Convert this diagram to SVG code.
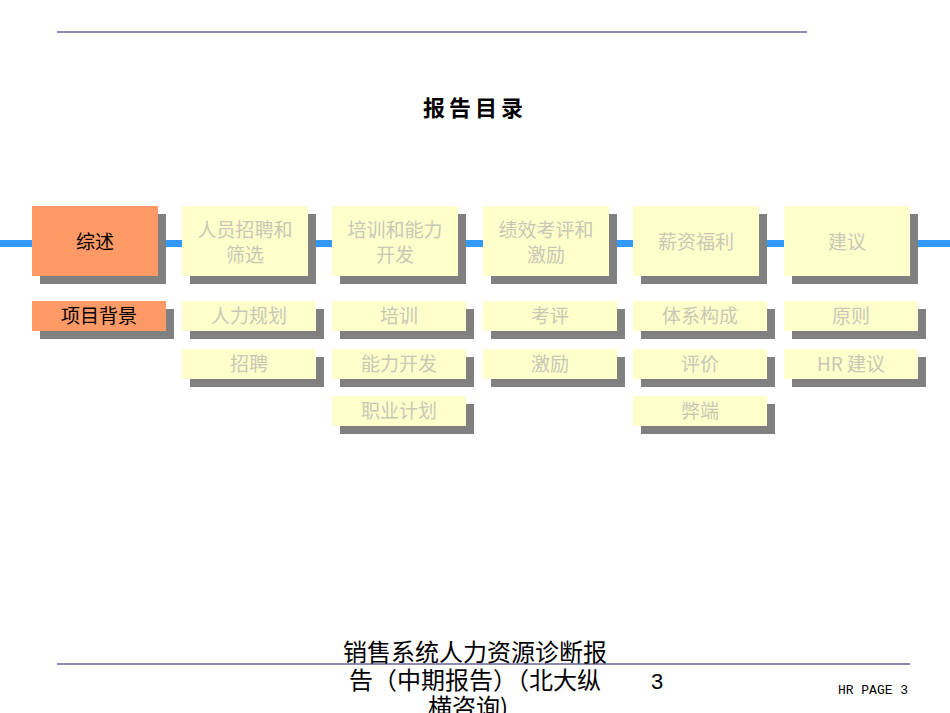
<svg xmlns="http://www.w3.org/2000/svg" width="950" height="713" viewBox="0 0 950 713">
<style>
text{font-family:"Noto Sans CJK SC","Liberation Sans",sans-serif;text-anchor:middle}
.sh{fill:#808080}
.y{fill:#ffffcc}
.o{fill:#ff9966}
.t{font-size:19px;fill:#c8c8b4}
.s{font-size:19px;fill:#c8c8b4}
.k{fill:#000}
.m{font-family:"Liberation Mono",monospace}
.a{font-family:"Liberation Sans",sans-serif}
</style>
<rect width="950" height="713" fill="#fff"/>
<line x1="57" y1="32" x2="807" y2="32" stroke="#666699" stroke-width="1.5"/>
<text x="475" y="116" font-size="22" font-weight="bold" letter-spacing="4">报告目录</text>
<g id="connectors"><rect x="0" y="240" width="950" height="7" fill="#3399ff"/></g>
<g id="n1"><rect class="sh" x="40" y="214" width="126" height="70"/><rect class="o" x="32" y="206" width="126" height="70"/><text class="k" x="95" y="249" font-size="19">综述</text></g>
<g id="n2"><rect class="sh" x="190" y="214" width="126" height="70"/><rect class="y" x="182" y="206" width="126" height="70"/><text class="t" x="245" y="237">人员招聘和</text><text class="t" x="245" y="262">筛选</text></g>
<g id="n3"><rect class="sh" x="340" y="214" width="126" height="70"/><rect class="y" x="332" y="206" width="126" height="70"/><text class="t" x="395" y="237">培训和能力</text><text class="t" x="395" y="262">开发</text></g>
<g id="n4"><rect class="sh" x="491" y="214" width="126" height="70"/><rect class="y" x="483" y="206" width="126" height="70"/><text class="t" x="546" y="237">绩效考评和</text><text class="t" x="546" y="262">激励</text></g>
<g id="n5"><rect class="sh" x="641" y="214" width="126" height="70"/><rect class="y" x="633" y="206" width="126" height="70"/><text class="t" x="696" y="249">薪资福利</text></g>
<g id="n6"><rect class="sh" x="792" y="214" width="126" height="70"/><rect class="y" x="784" y="206" width="126" height="70"/><text class="t" x="847" y="249">建议</text></g>
<g id="s1"><rect class="sh" x="40" y="309" width="134" height="30"/><rect class="o" x="32" y="301" width="134" height="30"/><text class="k" x="99" y="323" font-size="19">项目背景</text></g>
<g id="s2"><rect class="sh" x="190" y="309" width="134" height="30"/><rect class="y" x="182" y="301" width="134" height="30"/><text class="s" x="249" y="323">人力规划</text></g>
<g id="s3"><rect class="sh" x="190" y="357" width="134" height="30"/><rect class="y" x="182" y="349" width="134" height="30"/><text class="s" x="249" y="371">招聘</text></g>
<g id="s4"><rect class="sh" x="340" y="309" width="134" height="30"/><rect class="y" x="332" y="301" width="134" height="30"/><text class="s" x="399" y="323">培训</text></g>
<g id="s5"><rect class="sh" x="340" y="357" width="134" height="30"/><rect class="y" x="332" y="349" width="134" height="30"/><text class="s" x="399" y="371">能力开发</text></g>
<g id="s6"><rect class="sh" x="340" y="404" width="134" height="30"/><rect class="y" x="332" y="396" width="134" height="30"/><text class="s" x="399" y="418">职业计划</text></g>
<g id="s7"><rect class="sh" x="491" y="309" width="134" height="30"/><rect class="y" x="483" y="301" width="134" height="30"/><text class="s" x="550" y="323">考评</text></g>
<g id="s8"><rect class="sh" x="491" y="357" width="134" height="30"/><rect class="y" x="483" y="349" width="134" height="30"/><text class="s" x="550" y="371">激励</text></g>
<g id="s9"><rect class="sh" x="641" y="309" width="134" height="30"/><rect class="y" x="633" y="301" width="134" height="30"/><text class="s" x="700" y="323">体系构成</text></g>
<g id="s10"><rect class="sh" x="641" y="357" width="134" height="30"/><rect class="y" x="633" y="349" width="134" height="30"/><text class="s" x="700" y="371">评价</text></g>
<g id="s11"><rect class="sh" x="641" y="404" width="134" height="30"/><rect class="y" x="633" y="396" width="134" height="30"/><text class="s" x="700" y="418">弊端</text></g>
<g id="s12"><rect class="sh" x="792" y="309" width="134" height="30"/><rect class="y" x="784" y="301" width="134" height="30"/><text class="s" x="851" y="323">原则</text></g>
<g id="s13"><rect class="sh" x="792" y="357" width="134" height="30"/><rect class="y" x="784" y="349" width="134" height="30"/><text class="s" x="851" y="371">HR 建议</text></g>
<line x1="57" y1="664" x2="910" y2="664" stroke="#666699" stroke-width="1.5"/>
<text x="475" y="661" font-size="24">销售系统人力资源诊断报</text>
<text x="475" y="689" font-size="24">告（中期报告）（北大纵</text>
<text class="a" x="657" y="689" font-size="22">3</text>
<text x="468" y="716" font-size="24">横咨询)</text>
<text class="m" x="873" y="694" font-size="13">HR PAGE 3</text>
</svg>
